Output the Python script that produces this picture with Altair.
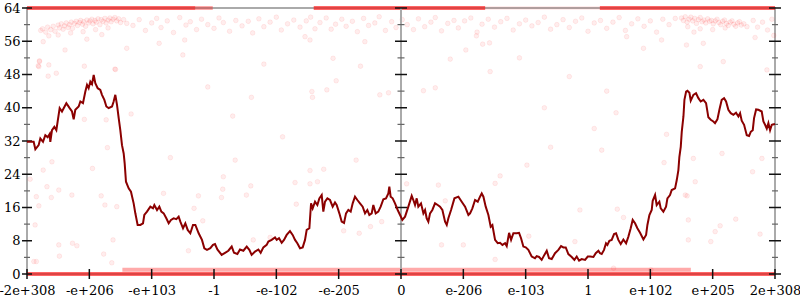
import json
import altair as alt
import pandas as pd

# ---------------- data ----------------
x_tick_values = [0, 1, 2, 3, 4, 5, 6, 7, 8, 9, 10, 11, 12]
x_tick_labels = ["-2e+308", "-e+206", "-e+103", "-1", "-e-102", "-e-205", "0",
                 "e-206", "e-103", "1", "e+102", "e+205", "2e+308"]
y_major = [0, 8, 16, 24, 32, 40, 48, 56, 64]
y_minor = [4, 12, 20, 28, 36, 44, 52, 60]
mid_axis_x = [6]

line_x = [
    0.000, 0.107, 0.134, 0.187, 0.214, 0.257, 0.294, 0.332, 0.364, 0.374,
    0.401, 0.439, 0.471, 0.492, 0.524, 0.561, 0.631, 0.684, 0.722, 0.749,
    0.775, 0.829, 0.856, 0.898, 0.936, 0.963, 0.989, 1.016, 1.043, 1.070,
    1.096, 1.134, 1.176, 1.203, 1.241, 1.273, 1.310, 1.364, 1.390, 1.417,
    1.444, 1.471, 1.497, 1.524, 1.551, 1.567, 1.588, 1.631, 1.668, 1.711,
    1.738, 1.775, 1.818, 1.861, 1.882, 1.925, 1.979, 2.021, 2.043, 2.086,
    2.123, 2.155, 2.193, 2.235, 2.273, 2.310, 2.353, 2.396, 2.433, 2.460,
    2.503, 2.540, 2.578, 2.620, 2.663, 2.701, 2.754, 2.807, 2.845, 2.888,
    2.941, 2.984,
    3.016, 3.054, 3.123, 3.177, 3.230, 3.284, 3.321, 3.375, 3.417, 3.471,
    3.525, 3.567, 3.604, 3.658, 3.712, 3.749, 3.792, 3.845, 3.872, 3.925,
    3.979, 4.006, 4.043, 4.086, 4.123, 4.166, 4.219, 4.262, 4.300, 4.337,
    4.380, 4.423, 4.460, 4.487, 4.530, 4.557, 4.583, 4.621, 4.658, 4.690,
    4.728, 4.754, 4.781, 4.819, 4.861, 4.904, 4.941, 4.968, 5.011, 5.048,
    5.086, 5.118, 5.155, 5.193, 5.225, 5.262, 5.300, 5.342, 5.385, 5.423,
    5.460, 5.492, 5.530, 5.556, 5.594, 5.636, 5.674, 5.717, 5.759, 5.797,
    5.813, 5.834, 5.866,
    5.904, 5.947, 5.985, 6.022, 6.065, 6.118, 6.172, 6.198, 6.225, 6.252,
    6.278, 6.321, 6.359, 6.386, 6.412, 6.439, 6.466, 6.503, 6.546, 6.589,
    6.626, 6.664, 6.707, 6.734, 6.760, 6.803, 6.857, 6.921, 6.974, 7.028,
    7.081, 7.108, 7.145, 7.188, 7.231, 7.268, 7.295, 7.322, 7.359, 7.402,
    7.439, 7.466, 7.509, 7.552, 7.589, 7.627, 7.670, 7.696, 7.734, 7.766,
    7.803, 7.857, 7.894, 7.926, 7.963, 8.001, 8.043, 8.097, 8.150, 8.177,
    8.215, 8.257, 8.300, 8.338, 8.375, 8.418, 8.471, 8.525, 8.568, 8.605,
    8.643, 8.685, 8.739, 8.782, 8.819, 8.857, 8.899, 8.953, 8.996, 9.034,
    9.087, 9.124, 9.167,
    9.193, 9.220, 9.257, 9.289, 9.311, 9.343, 9.380, 9.418, 9.450, 9.487,
    9.525, 9.568, 9.611, 9.648, 9.685, 9.717, 9.755, 9.792, 9.835, 9.889,
    9.932, 9.953, 9.985, 10.022, 10.038, 10.076, 10.102, 10.145, 10.167, 10.209,
    10.252, 10.274, 10.316, 10.343, 10.397, 10.424, 10.450, 10.466, 10.488, 10.504,
    10.531, 10.547, 10.574, 10.595, 10.627, 10.648, 10.691, 10.733, 10.771, 10.808,
    10.851, 10.894, 10.931, 10.969, 11.011, 11.038, 11.076, 11.108, 11.145, 11.183,
    11.215, 11.252, 11.290, 11.332, 11.375, 11.413, 11.440, 11.466, 11.504, 11.547,
    11.584, 11.611, 11.643, 11.664, 11.697, 11.734, 11.787, 11.814, 11.841, 11.868,
    11.894, 11.921, 11.948, 12.000,
]
line_y = [
    31.8, 31.8, 30.0, 31.0, 32.6, 31.8, 33.4, 32.9, 33.7, 31.8,
    34.6, 35.4, 34.6, 36.7, 39.9, 39.1, 41.1, 39.9, 39.1, 37.2,
    39.5, 40.3, 41.5, 41.1, 43.9, 45.5, 44.7, 46.3, 45.7, 47.9,
    45.9, 44.7, 44.3, 43.1, 41.9, 40.3, 39.9, 40.3, 41.5, 43.1,
    40.7, 37.5, 34.6, 31.0, 29.0, 26.6, 22.2, 20.6, 19.8, 17.0,
    14.6, 11.8, 11.8, 12.2, 14.2, 15.0, 16.2, 15.8, 16.6, 15.4,
    16.2, 15.0, 14.6, 13.4, 12.2, 13.0, 13.4, 13.2, 13.8, 12.6,
    11.0, 12.2, 10.6, 9.8, 11.8, 11.8, 9.8, 8.2, 6.2, 5.8,
    6.2, 7.0,
    7.2, 5.9, 4.6, 5.1, 5.6, 6.6, 5.1, 4.8, 5.9, 5.6,
    6.6, 5.8, 4.6, 5.4, 5.9, 5.1, 6.4, 7.0, 7.8, 8.2,
    8.8, 8.2, 8.6, 7.5, 8.2, 9.4, 10.3, 9.4, 8.2, 7.4,
    6.2, 6.4, 8.2, 10.6, 11.0, 17.0, 15.8, 17.4, 16.6, 18.2,
    19.0, 15.0, 17.4, 18.2, 17.8, 16.2, 17.2, 16.6, 14.6, 12.6,
    12.3, 14.6, 15.4, 15.0, 17.0, 18.6, 17.8, 17.0, 16.2, 14.6,
    15.4, 14.2, 14.6, 16.6, 14.6, 15.0, 16.2, 18.0, 18.2, 19.4,
    21.0, 18.6, 18.2,
    17.0, 15.4, 14.2, 13.0, 13.8, 16.2, 18.8, 17.8, 16.6, 18.2,
    16.2, 17.0, 14.6, 15.4, 13.4, 12.6, 14.6, 15.4, 17.0, 16.6,
    16.2, 15.4, 12.6, 11.8, 13.4, 15.4, 18.2, 18.6, 17.4, 16.2,
    14.2, 14.6, 15.8, 17.8, 17.4, 18.6, 19.4, 18.6, 16.2, 14.2,
    11.4, 11.8, 8.2, 7.4, 7.5, 7.0, 7.4, 6.7, 9.9, 8.2,
    9.8, 9.8, 9.9, 8.6, 6.6, 6.4, 5.8, 4.2, 3.8, 4.3,
    4.1, 3.4, 4.6, 5.6, 3.8, 3.6, 5.0, 5.8, 6.7, 6.4,
    6.4, 4.8, 4.1, 3.4, 4.2, 3.2, 3.6, 3.4, 4.2, 4.2,
    4.1, 5.0, 5.6,
    5.0, 4.8, 5.8, 7.4, 7.0, 8.0, 8.2, 9.6, 9.8, 8.2,
    7.2, 8.3, 7.4, 9.0, 11.0, 13.0, 12.2, 11.0, 9.9, 8.3,
    9.4, 11.8, 14.2, 15.4, 17.6, 19.0, 16.6, 17.4, 15.8, 15.0,
    16.2, 18.2, 19.0, 20.2, 20.6, 22.6, 25.0, 28.2, 30.6, 34.2,
    37.9, 41.9, 43.9, 44.1, 43.6, 41.7, 43.1, 43.5, 42.3, 41.5,
    41.9, 41.1, 37.7, 37.1, 36.7, 36.3, 37.2, 39.5, 41.9, 42.3,
    41.5, 39.5, 38.7, 38.3, 38.8, 37.9, 38.7, 36.9, 35.9, 33.4,
    33.2, 34.2, 34.6, 37.5, 39.6, 39.5, 39.1, 36.7, 35.9, 35.0,
    36.3, 34.6, 35.9, 36.1,
]

# individual faint points (sparse ones, then the clusters near the top)
pts_x = [
    0.20, 0.35, 0.19, 0.47, 0.92, 1.42, 1.67, 1.27, 0.92, 1.29, 1.05, 0.26, 0.40,
    0.05, 0.32, 0.51, 0.15, 0.39, 0.72, 1.19, 2.19, 2.75, 0.19, 1.25, 1.44, 2.68,
    2.82, 0.13, 1.38, 0.51, 0.73, 0.80, 2.59, 0.52, 1.23, 0.11, 0.15, 1.36,
    3.34, 3.15, 3.59, 3.14, 3.12, 3.52, 4.30, 4.54, 4.54, 4.66, 4.76, 4.32, 3.63,
    3.90, 5.08, 5.33, 5.51, 5.69, 5.28,
    8.02, 7.59, 6.09, 6.60, 7.51, 6.71, 8.87, 8.05, 8.79, 6.65, 7.00, 7.51,
    9.45, 10.26, 9.22, 10.69, 11.15, 10.22, 11.79, 11.64, 10.72, 10.56, 10.59, 9.47,
    9.57, 10.61, 11.37, 11.12, 11.04, 11.76, 10.61, 10.97, 9.41, 10.01,
    11.17, 10.80, 9.89, 10.18, 11.87, 9.62, 10.58, 10.85, 11.68,
    4.57, 4.58, 4.91, 5.35, 4.96, 4.81, 5.66, 5.80, 6.36, 6.55, 6.79, 7.43, 7.04,
    7.31, 7.42, 7.21, 4.46, 4.54, 5.42,
    0.20, 0.18, 0.34, 1.41, 0.61, 0.26, 0.96, 1.60, 2.50, 2.53, 2.12,
    2.90, 3.30, 3.80, 4.10, 8.30, 8.70, 9.10, 7.90, 8.40, 2.30, 3.60, 9.30,
    # left cluster
    0.22, 0.25, 0.30, 0.33, 0.38, 0.42, 0.45, 0.50, 0.52, 0.55, 0.58, 0.60, 0.63,
    0.66, 0.68, 0.71, 0.73, 0.76, 0.79, 0.81, 0.84, 0.86, 0.89, 0.91, 0.94, 0.96,
    0.99, 1.01, 1.04, 1.06, 1.09, 1.11, 1.14, 1.17, 1.19, 1.22, 1.25, 1.27, 1.30,
    1.33, 1.35, 1.38, 1.41, 1.44, 1.47, 1.50, 1.55, 1.60,
    0.50, 0.70, 0.90, 1.10, 1.30, 0.35, 1.20,
    # middle scattered band
    1.70, 1.80, 1.90, 2.00, 2.08, 2.15, 2.25, 2.35, 2.45, 2.55, 2.62, 2.72, 2.80,
    2.90, 3.00, 3.08, 3.15, 3.25, 3.35, 3.45, 3.55, 3.62, 3.72, 3.80, 3.90, 4.00,
    4.08, 4.18, 4.28, 4.38, 4.48, 4.55, 4.62, 4.70, 4.80, 4.88, 4.95, 5.05, 5.12,
    5.22, 5.30, 5.40, 5.48, 5.58, 5.65, 5.75, 5.85, 5.92, 6.02, 6.10, 6.20, 6.28,
    6.38, 6.48, 6.55, 6.65, 6.75, 6.85, 6.92, 7.02, 7.12, 7.22, 7.30, 7.40, 7.50,
    7.60, 7.70, 7.80, 7.90, 8.00, 8.10, 8.20, 8.30, 8.40, 8.50, 8.60, 8.70, 8.80,
    8.90, 9.00, 9.10, 9.20, 9.30, 9.40, 9.50, 9.60, 9.70, 9.80, 9.90, 10.00, 10.10,
    10.20, 10.30, 10.40,
    # right cluster
    10.50, 10.53, 10.56, 10.59, 10.62, 10.65, 10.68, 10.71, 10.74, 10.77, 10.80,
    10.83, 10.86, 10.89, 10.92, 10.95, 10.98, 11.01, 11.04, 11.07, 11.10, 11.13,
    11.16, 11.19, 11.22, 11.25, 11.28, 11.31, 11.34, 11.37, 11.40, 11.43, 11.46,
    11.50, 11.55,
    10.60, 10.80, 11.00, 11.20, 10.70,
    11.65, 11.72, 11.80, 11.88, 11.95, 11.98,
]
pts_y = [
    51.1, 50.3, 49.9, 48.3, 50.0, 49.2, 38.5, 37.1, 37.2, 30.4, 25.4, 25.0, 27.0,
    22.8, 21.0, 20.2, 18.6, 18.4, 19.0, 18.8, 19.4, 18.8, 16.4, 16.6, 16.2, 15.8,
    12.8, 11.8, 8.2, 7.0, 7.4, 6.8, 5.6, 4.3, 4.8, 3.0, 3.0, 2.7,
    27.4, 23.4, 21.2, 20.4, 18.4, 19.0, 22.0, 24.9, 21.7, 22.2, 25.2, 16.8, 8.2,
    8.8, 10.4, 9.8, 11.4, 12.6, 27.4,
    26.2, 23.6, 21.7, 21.4, 21.8, 17.6, 15.4, 9.1, 7.8, 7.0, 7.0, 3.5,
    38.8, 33.6, 29.8, 27.8, 29.0, 26.8, 27.8, 24.6, 22.2, 19.0, 18.8, 15.6,
    13.6, 13.0, 13.2, 11.6, 10.2, 9.6, 8.2, 7.8, 1.4, 1.0,
    51.1, 49.9, 54.3, 56.3, 49.1, 57.1, 55.1, 55.5, 56.9,
    43.9, 42.5, 51.9, 50.0, 46.5, 44.3, 43.1, 43.6, 44.1, 44.8, 51.7, 48.7, 53.9,
    55.3, 55.6, 57.3, 57.1, 56.3, 55.9,
    51.3, 50.1, 47.6, 49.3, 53.9, 55.9, 56.5, 54.3, 52.7, 56.3, 55.5,
    45.0, 38.0, 50.5, 33.0, 40.0, 47.5, 35.0, 52.0, 30.5, 28.0, 42.5, 44.0,
    # left cluster
    58.6, 59.0, 58.2, 59.4, 58.8, 59.6, 58.4, 59.9, 59.2, 60.2, 58.9, 59.7, 60.4,
    59.3, 60.0, 60.6, 59.1, 60.3, 60.8, 59.8, 60.5, 61.0, 60.1, 60.7, 59.6, 61.1,
    60.4, 60.9, 61.3, 60.2, 61.0, 60.6, 61.4, 60.0, 61.2, 60.8, 61.5, 60.4, 61.1,
    61.6, 60.7, 61.3, 61.7, 60.9, 61.4, 60.5, 61.2, 60.3,
    57.5, 58.0, 58.3, 58.8, 59.2, 57.3, 57.6,
    # middle scattered band
    59.8, 61.2, 58.6, 60.4, 61.5, 59.3, 60.9, 58.1, 61.7, 59.9, 60.7, 58.8, 61.3,
    60.0, 59.1, 61.6, 60.5, 58.4, 61.0, 59.7, 60.8, 58.0, 61.4, 59.5, 60.6, 61.8,
    58.7, 60.2, 61.1, 59.4, 60.9, 61.8, 59.0, 60.5, 61.6, 58.9, 60.1, 61.3, 59.6,
    60.8, 58.3, 61.5, 59.8, 60.4, 61.9, 58.6, 60.7, 59.3, 61.2, 60.0, 58.8, 61.4,
    59.5, 60.6, 61.7, 58.5, 60.3, 61.0, 59.2, 60.9, 61.6, 58.2, 60.1, 61.3, 59.4,
    60.7, 61.5, 58.7, 60.2, 61.1, 59.7, 60.5, 61.8, 58.9, 60.0, 61.2, 59.3, 60.8,
    61.6, 58.4, 60.4, 61.0, 59.1, 60.6, 61.7, 58.6, 60.2, 61.4, 59.6, 60.9, 58.2,
    61.3, 60.0, 61.5,
    # right cluster
    61.6, 61.0, 61.9, 60.6, 61.3, 61.8, 60.9, 61.5, 60.3, 61.2, 61.7,
    60.7, 61.1, 60.4, 61.4, 60.8, 61.0, 60.2, 60.9, 61.3, 60.5, 60.0,
    60.8, 61.1, 60.3, 59.8, 60.6, 60.9, 60.1, 59.6, 60.4, 60.7, 59.9,
    60.2, 59.5,
    59.5, 59.0, 58.8, 59.2, 58.2,
    61.0, 59.4, 60.6, 58.7, 61.3, 57.4,
]

# dense runs of overlapping points along the top (64) and bottom (0)
band_x0 = [0.00, 2.70, 4.60, 7.35, 9.19, 0.00, 1.53]
band_x1 = [2.70, 2.98, 7.35, 9.19, 12.00, 12.00, 10.65]
band_y = [64, 64, 64, 64, 64, 0, 1.0]
band_kind = ["dense", "light", "dense", "faint", "dense", "dense", "light"]

assert len(line_x) == len(line_y)
assert len(pts_x) == len(pts_y)

# ---------------- chart ----------------
W, H = 748, 266
FONT = "DejaVu Serif"
xs = alt.Scale(domain=[0, 12], nice=False, zero=False)
ys = alt.Scale(domain=[0, 64], nice=False, zero=False)

line_df = pd.DataFrame({"x": line_x, "y": line_y})
pts_df = pd.DataFrame({"x": pts_x, "y": pts_y})
band_df = pd.DataFrame({"x0": band_x0, "x1": band_x1, "y": band_y, "kind": band_kind})
ymaj_df = pd.DataFrame({"v": y_major})
ymin_df = pd.DataFrame({"v": y_minor})
xt_df = pd.DataFrame({"v": x_tick_values})
mid_df = pd.DataFrame({"v": mid_axis_x})

label_expr = "[" + ",".join(json.dumps(s) for s in x_tick_labels) + "][round(datum.value)]"

bands = alt.Chart(band_df).mark_rule(color="red", strokeWidth=4, strokeCap="butt").encode(
    x=alt.X("x0:Q", scale=xs, axis=None),
    x2="x1:Q",
    y=alt.Y("y:Q", scale=ys, axis=None),
    opacity=alt.Opacity("kind:N", scale=alt.Scale(domain=["dense", "light", "faint"],
                                                  range=[0.6, 0.07, 0.05]), legend=None),
)

pts = alt.Chart(pts_df).mark_circle(
    color="red", size=22, fillOpacity=0.07, stroke="red", strokeOpacity=0.07, strokeWidth=1
).encode(
    x=alt.X("x:Q", scale=xs, axis=None),
    y=alt.Y("y:Q", scale=ys, axis=None),
)

mid_line = alt.Chart(mid_df).mark_rule(color="#aaaaaa", strokeWidth=2).encode(
    x=alt.X("v:Q", scale=xs, axis=None),
    y=alt.value(0), y2=alt.value(H),
)

def yticks(df, x0, x1, color, sw):
    return alt.Chart(df).mark_rule(color=color, strokeWidth=sw).encode(
        y=alt.Y("v:Q", scale=ys, axis=None),
        x=alt.value(x0), x2=alt.value(x1),
    )

ticks = [
    yticks(ymaj_df, -5, 5, "#111111", 1.5),
    yticks(ymin_df, -3, 3, "#666666", 1.2),
    yticks(ymaj_df, W / 2 - 6, W / 2 + 6, "#111111", 1.5),
    yticks(ymin_df, W / 2 - 3.5, W / 2 + 3.5, "#666666", 1.2),
    yticks(ymaj_df, W - 6, W + 6, "#111111", 1.5),
    yticks(ymin_df, W - 3, W + 3, "#666666", 1.2),
    alt.Chart(xt_df).mark_rule(color="#111111", strokeWidth=1.5).encode(
        x=alt.X("v:Q", scale=xs, axis=None),
        y=alt.value(H - 5), y2=alt.value(H + 5),
    ),
]

line = alt.Chart(line_df).mark_line(color="#8b0000", strokeWidth=2).encode(
    x=alt.X("x:Q", scale=xs, axis=alt.Axis(
        orient="bottom", values=x_tick_values, labelExpr=label_expr, ticks=False,
        domain=False, grid=False, title=None, labelFont=FONT, labelFontSize=13,
        labelColor="black", labelPadding=10, labelFlush=False, labelOverlap=False)),
    y=alt.Y("y:Q", scale=ys, axis=alt.Axis(
        orient="left", values=y_major, ticks=False, domain=False, grid=False, title=None,
        labelFont=FONT, labelFontSize=13, labelColor="black", labelPadding=7)),
)

chart = alt.layer(bands, pts, mid_line, *ticks, line).resolve_axis(
    x="independent", y="independent"
).properties(
    width=W, height=H,
    padding={"left": 27, "top": 8, "right": 25, "bottom": 26},
    autosize=alt.AutoSizeParams(type="none"),
    background="white",
).configure_view(stroke="#aaaaaa", strokeWidth=2)

chart.save("out.html", embed_options={"renderer": "svg", "actions": False})
